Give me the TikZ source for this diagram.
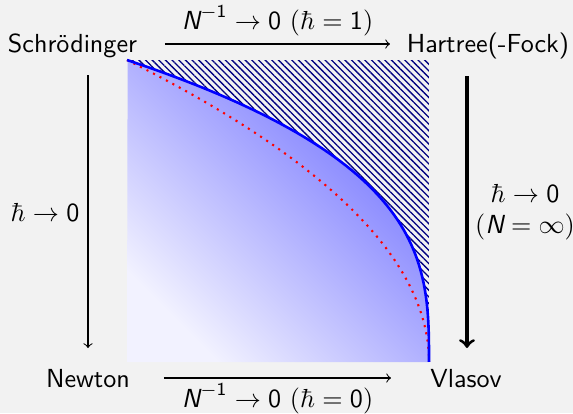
\documentclass[tikz,border=0pt]{standalone}
\usepackage{amsmath}
\usetikzlibrary{patterns.meta}
\newcommand{\sfN}{\textsf{\itshape N}}
\newcommand{\sfd}[1]{\textsf{#1}}
\begin{document}
\begin{tikzpicture}[x=0.383pt,y=-0.383pt,
  lbl/.style={font=\sffamily, inner sep=0pt, anchor=base},
  thinarrow/.style={->, line width=0.4pt},
  thickarrow/.style={->, line width=1.2pt},
  boundary/.style={blue, line width=1pt},
  meanfield/.style={red, dotted, line width=0.8pt},
  region/.style={top color=blue!56, bottom color=blue!5, shading angle=-45}]
\fill[gray!10] (0,0) rectangle (573,413);
\useasboundingbox (0,0) rectangle (573,413);
% shaded region under the blue curve
\shade[region]
  (127,362) -- plot[domain=0:1, samples=80] ({127+302*(1-\x*\x*\x)},{362-302*\x}) -- cycle;
% hatched region above the blue curve
\fill[pattern={Lines[angle=-45, distance=1.8pt, line width=0.5pt]}, pattern color=blue!50!black]
  (127,60) -- (429,60) -- plot[domain=0:1, samples=80] ({127+302*(1-\x*\x*\x)},{362-302*\x}) -- cycle;
% curves
\draw[meanfield] plot[domain=1:0, samples=80] ({127+302*(1-\x*\x)},{362-302*\x});
\draw[boundary] plot[domain=1:0, samples=80] ({127+302*(1-\x*\x*\x)},{362-302*\x});
% corner nodes
\node[lbl] (schr) at (72.5,52) {Schr\"odinger};
\node[lbl] (hart) at (488,52) {Hartree(-Fock)};
\node[lbl] (newt) at (88,387) {Newton};
\node[lbl] (vlas) at (466,387) {Vlasov};
% arrow end points
\coordinate (t1) at (165,44); \coordinate (t2) at (390,44);
\coordinate (b1) at (164,378); \coordinate (b2) at (391,378);
\coordinate (l1) at (88,75); \coordinate (l2) at (88,348);
\coordinate (r1) at (467,76); \coordinate (r2) at (467,348);
\draw[thinarrow] (t1) -- (t2);
\draw[thinarrow] (b1) -- (b2);
\draw[thinarrow] (l1) -- (l2);
\draw[thickarrow] (r1) -- (r2);
% labels
\node[lbl] (tl) at (277.5,29) {$\sfN^{-\sfd{1}}\to\sfd{0}$ $(\hbar=\sfd{1})$};
\node[lbl] (bl) at (277.5,407) {$\sfN^{-\sfd{1}}\to\sfd{0}$ $(\hbar=\sfd{0})$};
\node[lbl] (ll) at (45,221) {$\hbar\to\sfd{0}$};
\node[font=\sffamily, inner sep=0pt, align=center] (rl) at (525,212) {$\hbar\to\sfd{0}$\\$(\sfN=\infty)$};
\end{tikzpicture}
\end{document}
